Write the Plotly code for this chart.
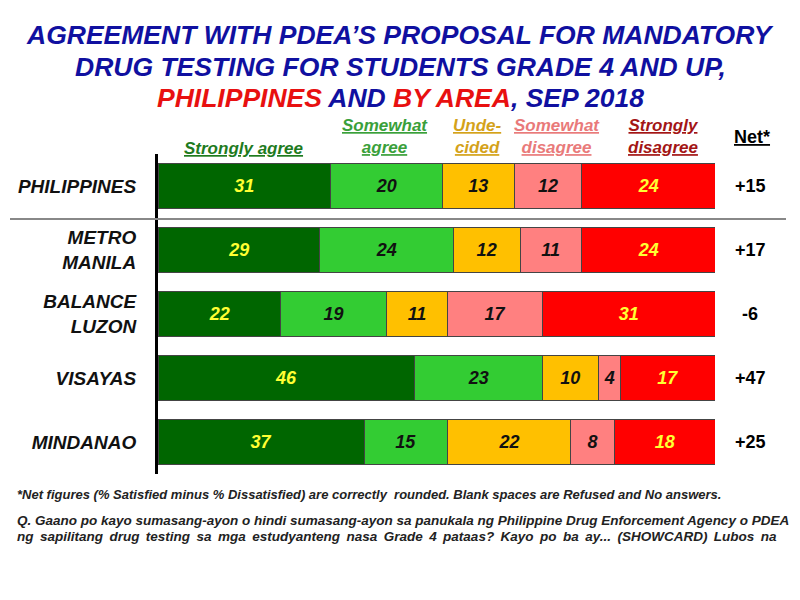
import plotly.graph_objects as go

# Survey data, Sep 2018 (percent)
areas = ["PHILIPPINES", "METRO<br>MANILA", "BALANCE<br>LUZON", "VISAYAS", "MINDANAO"]
strongly_agree = [31, 29, 22, 46, 37]
somewhat_agree = [20, 24, 19, 23, 15]
undecided = [13, 12, 11, 10, 22]
somewhat_disagree = [12, 11, 17, 4, 8]
strongly_disagree = [24, 24, 31, 17, 18]
net = ["+15", "+17", "-6", "+47", "+25"]

headers = ["Strongly agree", "Somewhat<br>agree", "Unde-<br>cided", "Somewhat<br>disagree", "Strongly<br>disagree"]

series = [
    (strongly_agree, "#006600", "#FFFF33", "#1E7B1E", 243),
    (somewhat_agree, "#33CC33", "#111111", "#3AA03A", 385),
    (undecided, "#FFC000", "#111111", "#D4A21A", 477),
    (somewhat_disagree, "#FF8080", "#111111", "#E97A7A", 557),
    (strongly_disagree, "#FF0000", "#FFFF33", "#A31515", 663),
]

font = "Liberation Sans, Arial"

# page body has an 8px margin, so place things relative to that
def px(x):
    return (x - 8) / 800

def py(y):
    return 1 - (y - 8) / 600

y_pos = list(range(len(areas)))

fig = go.Figure()
for (vals, color, tcolor, hcolor, hx), head in zip(series, headers):
    fig.add_trace(go.Bar(
        x=vals, y=y_pos, orientation="h",
        marker=dict(color=color, line=dict(color="#444444", width=1)),
        text=[f"<b><i>{v}</i></b>" for v in vals],
        textposition="inside", insidetextanchor="middle", textangle=0,
        textfont=dict(color=tcolor, size=18, family=font),
        constraintext="none",
        showlegend=False, hoverinfo="skip",
    ))
    single = "<br>" not in head
    fig.add_annotation(
        x=px(hx), y=py(148 if single else 137),
        xref="paper", yref="paper", showarrow=False,
        text=f"<b><i><u>{head}</u></i></b>",
        font=dict(color=hcolor, size=17, family=font),
        xanchor="center", yanchor="middle",
    )

fig.add_annotation(
    x=px(752), y=py(137), xref="paper", yref="paper", showarrow=False,
    text="<b><u>Net*</u></b>", font=dict(color="black", size=18, family=font),
    xanchor="center", yanchor="middle",
)

for yp, n in zip(y_pos, net):
    fig.add_annotation(
        x=px(750), y=yp, xref="paper", yref="y", showarrow=False,
        text=f"<b>{n}</b>", font=dict(color="black", size=18, family=font),
        xanchor="center", yanchor="middle",
    )

# title, three lines
title_lines = [
    "AGREEMENT WITH PDEA’S PROPOSAL FOR MANDATORY",
    "DRUG TESTING FOR STUDENTS GRADE 4 AND UP,",
    "<span style='color:#E81010'>PHILIPPINES</span> AND "
    "<span style='color:#E81010'>BY AREA</span>, SEP 2018",
]
for ty, line in zip([35, 67, 98], title_lines):
    fig.add_annotation(
        x=px(400), y=py(ty), xref="paper", yref="paper", showarrow=False,
        text=f"<b><i>{line}</i></b>",
        font=dict(color="#1010A0", size=26.5, family=font),
        xanchor="center", yanchor="middle",
    )

# separator under national figure
fig.add_shape(type="line", xref="paper", yref="paper",
              x0=px(10), x1=px(786), y0=py(219), y1=py(219),
              line=dict(color="#888888", width=2))

notes = [
    (494, "*Net figures (% Satisfied minus % Dissatisfied) are correctly  rounded. Blank spaces are Refused and No answers."),
    (520, "Q. Gaano po kayo sumasang-ayon o hindi sumasang-ayon sa panukala ng Philippine Drug Enforcement Agency o PDEA"),
    (536, "ng sapilitang drug testing sa mga estudyanteng nasa Grade 4 pataas? Kayo po ba ay... (SHOWCARD) Lubos na".replace(" ", "\u00a0\u2009")),
]
for ny, note in notes:
    fig.add_annotation(
        x=px(15), y=py(ny), xref="paper", yref="paper", showarrow=False,
        text=f"<b><i>{note}</i></b>",
        font=dict(color="#222222", size=13.5 if ny > 500 else 13, family=font),
        xanchor="left", yanchor="middle",
    )

fig.update_layout(
    width=800, height=600,
    margin=dict(l=0, r=0, t=0, b=0),
    paper_bgcolor="white", plot_bgcolor="white",
    barmode="stack", bargap=0.3,
    xaxis=dict(range=[0, 100], domain=[px(158), px(715)], visible=False, fixedrange=True),
    yaxis=dict(
        range=[4.5, -0.5], domain=[py(474), py(154)],
        tickvals=y_pos, ticktext=[f"<b><i>{a}</i></b>" for a in areas],
        tickfont=dict(color="#111111", size=19, family=font),
        showline=True, linecolor="black", linewidth=3,
        showgrid=False, zeroline=False, ticks="", ticklabelstandoff=15,
    ),
)

fig.write_html("out.html")
